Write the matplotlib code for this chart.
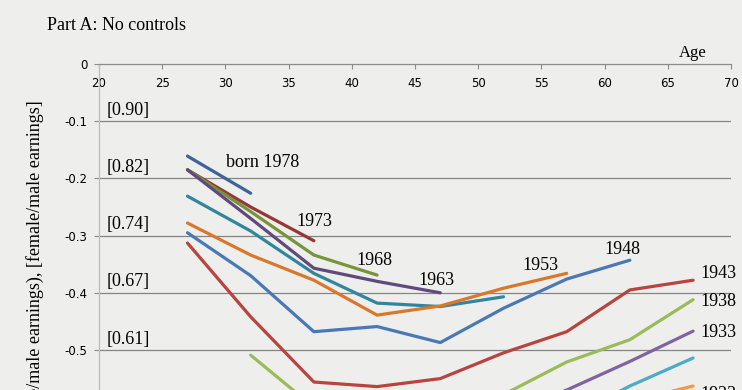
import matplotlib.pyplot as plt

#---------------------------------------------------------
#Data (log female/male earnings gap by birth cohort and age)
#---------------------------------------------------------

ages = [27, 32, 37, 42, 47, 52, 57, 62, 67]

cohort_years = [1978, 1973, 1968, 1963, 1958, 1953, 1948, 1943, 1938, 1933, 1928, 1923]
cohort_first_age = [27, 27, 27, 27, 27, 27, 27, 27, 32, 37, 42, 47]

gap_1978 = [-0.161, -0.226]
gap_1973 = [-0.185, -0.250, -0.309]
gap_1968 = [-0.185, -0.258, -0.334, -0.369]
gap_1963 = [-0.185, -0.270, -0.357, -0.380, -0.400]
gap_1958 = [-0.231, -0.292, -0.366, -0.418, -0.424, -0.407]
gap_1953 = [-0.278, -0.334, -0.378, -0.439, -0.423, -0.392, -0.366]
gap_1948 = [-0.295, -0.370, -0.468, -0.459, -0.487, -0.427, -0.376, -0.343]
gap_1943 = [-0.313, -0.442, -0.556, -0.564, -0.550, -0.505, -0.468, -0.395, -0.378]
gap_1938 = [-0.509, -0.600, -0.630, -0.620, -0.578, -0.521, -0.482, -0.412]
gap_1933 = [-0.640, -0.660, -0.650, -0.610, -0.570, -0.520, -0.467]
gap_1928 = [-0.660, -0.670, -0.650, -0.620, -0.563, -0.514]
gap_1923 = [-0.680, -0.670, -0.640, -0.590, -0.563]

gaps = [gap_1978, gap_1973, gap_1968, gap_1963, gap_1958, gap_1953,
        gap_1948, gap_1943, gap_1938, gap_1933, gap_1928, gap_1923]

y_ticks = [0, -0.1, -0.2, -0.3, -0.4, -0.5, -0.6, -0.7]
y_tick_labels = ['0', '-0.1', '-0.2', '-0.3', '-0.4', '-0.5', '-0.6', '-0.7']
x_ticks = [20, 25, 30, 35, 40, 45, 50, 55, 60, 65, 70]

ratio_levels = [-0.1, -0.2, -0.3, -0.4, -0.5]
ratio_labels = ['[0.90]', '[0.82]', '[0.74]', '[0.67]', '[0.61]']

# cohort label text and where it sits (age, gap)
label_texts = ['born 1978', '1973', '1968', '1963', '1953', '1948', '1943', '1938', '1933', '1923']
label_x = [30.05, 35.6, 40.4, 45.3, 53.5, 60.0, 67.6, 67.6, 67.6, 67.6]
label_y = [-0.173, -0.276, -0.343, -0.378, -0.353, -0.325, -0.367, -0.416, -0.469, -0.578]

colors = ['#3f6399', '#953735', '#77933c', '#5f4a7b', '#31859c', '#d9782d',
          '#4a78b5', '#b8443f', '#9bbb59', '#8064a2', '#4bacc6', '#f79646']

#---------------------------------------------------------
#Plot
#---------------------------------------------------------

bg = '#eeeeec'
serif = ['Liberation Serif', 'DejaVu Serif']

fig = plt.figure(figsize=(7.42, 3.9), dpi=100, facecolor=bg)
# axes runs below the picture edge (the original is cropped there)
ax = fig.add_axes([0.13342, -0.19077, 0.85175, 1.02667], facecolor=bg)

for yr, a0, vals, c in zip(cohort_years, cohort_first_age, gaps, colors):
    i0 = ages.index(a0)
    ax.plot(ages[i0:i0 + len(vals)], vals, color=c, lw=2.3,
            solid_capstyle='round', solid_joinstyle='round', zorder=3)

ax.set_xlim(20, 70)
ax.set_ylim(-0.7, 0)

ax.set_yticks(y_ticks)
ax.set_yticklabels(y_tick_labels)
ax.set_xticks(x_ticks)
ax.set_xticklabels([str(t) for t in x_ticks])

ax.xaxis.tick_top()
ax.tick_params(axis='x', direction='in', length=3.5, color='#8c8c8c',
               pad=-18.5, labelsize=8.5, labelcolor='black')
ax.tick_params(axis='y', direction='out', length=3.5, color='#8c8c8c',
               pad=5, labelsize=8.5, labelcolor='black')

for y in y_ticks[1:]:
    ax.axhline(y, color='#858585', lw=0.9, zorder=1)

for s in ['right', 'bottom']:
    ax.spines[s].set_visible(False)
ax.spines['top'].set_color('#8c8c8c')
ax.spines['top'].set_linewidth(0.9)
ax.spines['left'].set_color('#bdbdbd')
ax.spines['left'].set_linewidth(0.9)

for lv, txt in zip(ratio_levels, ratio_labels):
    ax.text(20.63, lv + 0.019, txt, family=serif, fontsize=13,
            va='center', ha='left', zorder=4)

for txt, lx, ly in zip(label_texts, label_x, label_y):
    ax.text(lx, ly, txt, family=serif, fontsize=13, va='center', ha='left', zorder=4)

ax.text(0.94, 1.0275, 'Age', transform=ax.transAxes, family=serif, fontsize=12,
        va='center', ha='center')

fig.text(47 / 742, 1 - 26 / 390, 'Part A: No controls', family=serif, fontsize=13,
         va='center', ha='left')
fig.text(35 / 742, 1 - 100 / 390, 'ln(female/male earnings), [female/male earnings]',
         family=serif, fontsize=13, rotation=90, va='top', ha='center')

plt.savefig('out.png', dpi=100, facecolor=bg)
